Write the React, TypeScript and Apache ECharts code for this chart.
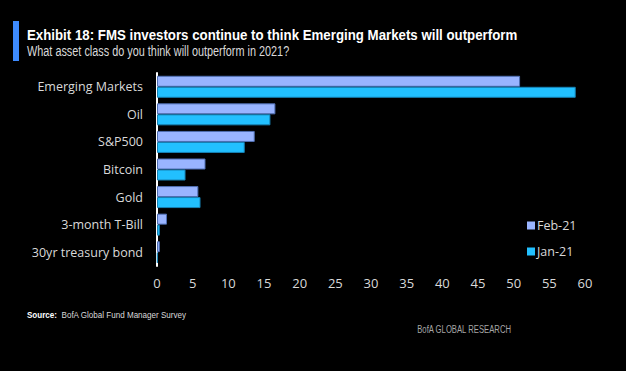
import React, { useEffect, useRef } from "react";
import * as echarts from "echarts";

const categories = [
  "Emerging Markets",
  "Oil",
  "S&P500",
  "Bitcoin",
  "Gold",
  "3-month T-Bill",
  "30yr treasury bond",
];
const feb21 = [50.9, 16.6, 13.7, 6.8, 5.8, 1.4, 0.4];
const jan21 = [58.7, 15.9, 12.3, 4.0, 6.1, 0.4, 0.1];
const seriesNames = ["Feb-21", "Jan-21"];
const titleText = "Exhibit 18: FMS investors continue to think Emerging Markets will outperform";
const subtitleText = "What asset class do you think will outperform in 2021?";

export default function App() {
  const ref = useRef<HTMLDivElement>(null);
  useEffect(() => {
    document.body.style.margin = "0";
    document.body.style.background = "#000";
    const chart = echarts.init(ref.current!, null, { renderer: "svg" });
    const sans = "'Liberation Sans', Arial, sans-serif";
    chart.setOption({
      animation: false,
      backgroundColor: "#000000",
      grid: { left: 157, right: 41, top: 73, bottom: 105, containLabel: false },
      xAxis: {
        type: "value",
        min: 0,
        max: 60,
        interval: 5,
        axisLine: { show: false },
        axisTick: { show: false },
        splitLine: { show: false },
        axisLabel: { color: "#d9d9d9", fontSize: 13, fontFamily: "'Open Sans', sans-serif", margin: 10 },
      },
      yAxis: {
        type: "category",
        data: categories,
        inverse: true,
        axisLine: { show: true, lineStyle: { color: "#ffffff", width: 2 } },
        axisTick: { show: false },
        axisLabel: { color: "#d9d9d9", fontSize: 12.5, fontFamily: "'Open Sans', sans-serif", margin: 14 },
      },
      legend: {
        orient: "vertical",
        left: 522,
        top: 214,
        itemWidth: 8,
        itemHeight: 8,
        itemGap: 13,
        icon: "rect",
        itemStyle: { borderWidth: 0 },
        textStyle: { color: "#d9d9d9", fontSize: 12.5, fontFamily: "'Open Sans', sans-serif", padding: [0, 0, 0, -3] },
        data: seriesNames,
      },
      series: [
        {
          name: seriesNames[0],
          type: "bar",
          data: feb21,
          barWidth: 11,
          barGap: "0%",
          barCategoryGap: "20%",
          itemStyle: { color: "#99b4ff", borderColor: "#4f6fb3", borderWidth: 1 },
        },
        {
          name: seriesNames[1],
          type: "bar",
          data: jan21,
          barWidth: 11,
          barGap: "0%",
          itemStyle: { color: "#22c0ff", borderColor: "#1682b5", borderWidth: 1 },
        },
      ],
      graphic: [
        { type: "rect", shape: { x: 13, y: 21, width: 6, height: 40 }, style: { fill: "#3d8bff" } },
        {
          type: "text",
          x: 27,
          y: 35,
          scaleX: 0.885,
          style: { text: titleText, fill: "#ffffff", font: "bold 15px " + sans, textVerticalAlign: "middle" },
        },
        {
          type: "text",
          x: 27,
          y: 51,
          scaleX: 0.725,
          style: { text: subtitleText, fill: "#d9d9d9", font: "15px " + sans, textVerticalAlign: "middle" },
        },
        {
          type: "text",
          x: 27,
          y: 315,
          scaleX: 0.85,
          style: {
            text: "{b|Source:}  BofA Global Fund Manager Survey",
            fill: "#d9d9d9",
            font: "9.5px " + sans,
            textVerticalAlign: "middle",
            rich: { b: { fontWeight: "bold", fill: "#ffffff", fontSize: 9.5, fontFamily: sans } },
          },
        },
        {
          type: "text",
          x: 511,
          y: 329,
          scaleX: 0.7,
          style: {
            text: "BofA GLOBAL RESEARCH",
            fill: "#a6a6a6",
            font: "11px " + sans,
            textAlign: "right",
            textVerticalAlign: "middle",
          },
        },
      ],
    });
    return () => chart.dispose();
  }, []);
  return <div ref={ref} style={{ width: 626, height: 371 }} />;
}
